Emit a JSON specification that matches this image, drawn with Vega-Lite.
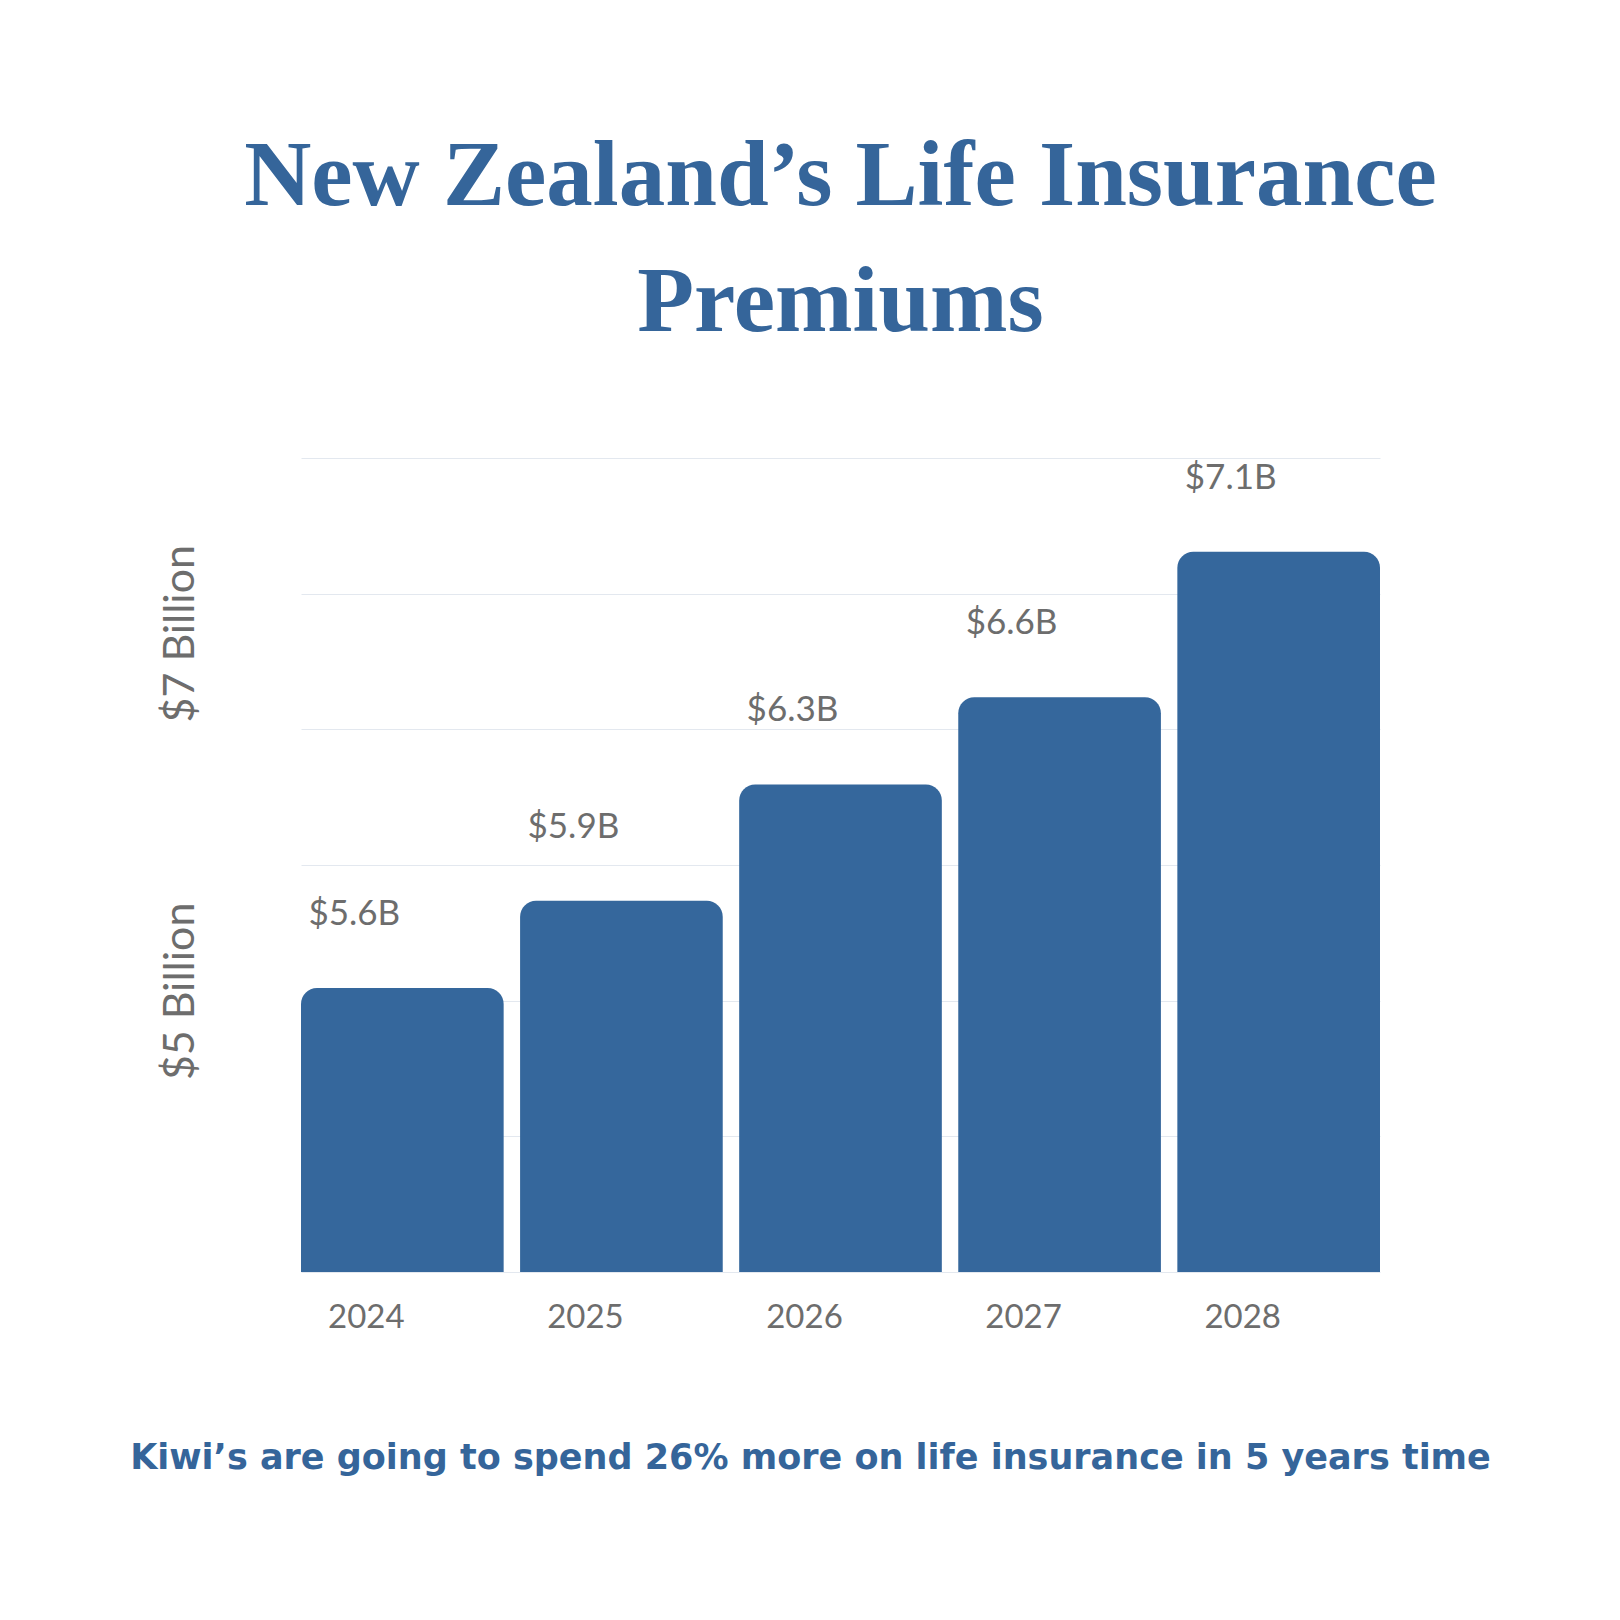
{
  "$schema": "https://vega.github.io/schema/vega-lite/v6.json",
  "width": 1079,
  "height": 814,
  "autosize": "none",
  "padding": {"left": 301, "top": 458, "right": 240, "bottom": 348},
  "background": "white",
  "config": {"view": {"stroke": null}},
  "title": {
    "text": ["New Zealand’s Life Insurance", "Premiums"],
    "font": "Liberation Serif",
    "fontSize": 93,
    "fontWeight": "bold",
    "color": "#35659a",
    "anchor": "middle",
    "frame": "group",
    "lineHeight": 126,
    "offset": 107
  },
  "data": {
    "values": [
      {"year": "2024", "premium": 5.6, "label": "$5.6B"},
      {"year": "2025", "premium": 5.9, "label": "$5.9B"},
      {"year": "2026", "premium": 6.3, "label": "$6.3B"},
      {"year": "2027", "premium": 6.6, "label": "$6.6B"},
      {"year": "2028", "premium": 7.1, "label": "$7.1B"}
    ]
  },
  "encoding": {
    "x": {
      "field": "year",
      "type": "ordinal",
      "scale": {"paddingInner": 0.075, "paddingOuter": 0},
      "axis": {
        "title": "Kiwi’s are going to spend 26% more on life insurance in 5 years time",
        "titleFont": "DejaVu Sans",
        "titleFontWeight": "bold",
        "titleFontSize": 35,
        "titleColor": "#35659a",
        "titleX": 509,
        "titleY": 196,
        "titleAlign": "center",
        "titleBaseline": "alphabetic",
        "labelAngle": 0,
        "domain": false,
        "ticks": false,
        "grid": false,
        "labelFont": "Lato",
        "labelFontSize": 33,
        "labelColor": "#6d6d6d",
        "labelOffset": -36,
        "labelPadding": 29
      }
    }
  },
  "layer": [
    {
      "mark": {"type": "bar", "color": "#35679c", "cornerRadiusTopLeft": 16, "cornerRadiusTopRight": 16},
      "encoding": {
        "y": {
          "field": "premium",
          "type": "quantitative",
          "scale": {"domain": [4.623, 7.4226], "zero": false, "nice": false},
          "axis": {
            "values": [4.623, 5.0896, 5.5562, 5.59, 6.0228, 6.4894, 6.82, 6.956, 7.4226],
            "title": null,
            "domain": false,
            "ticks": false,
            "grid": true,
            "gridColor": "#e3e8ef",
            "gridWidth": 1,
            "gridOpacity": {"condition": {"test": "datum.value == 5.59 || datum.value == 6.82", "value": 0}, "value": 1},
            "labelExpr": "datum.value == 5.59 ? '$5 Billion' : datum.value == 6.82 ? '$7 Billion' : ''",
            "labelOverlap": false,
            "labelAngle": -90,
            "labelAlign": "center",
            "labelBaseline": "middle",
            "labelPadding": 121,
            "labelFont": "Lato",
            "labelFontSize": 43,
            "labelColor": "#6d6d6d"
          }
        },
        "y2": {"datum": 4.623}
      }
    },
    {
      "mark": {"type": "text", "font": "Lato", "fontSize": 35, "color": "#6d6d6d", "dx": -48, "dy": -74, "baseline": "middle", "align": "center"},
      "encoding": {
        "y": {"field": "premium", "type": "quantitative"},
        "text": {"field": "label"}
      }
    }
  ]
}
